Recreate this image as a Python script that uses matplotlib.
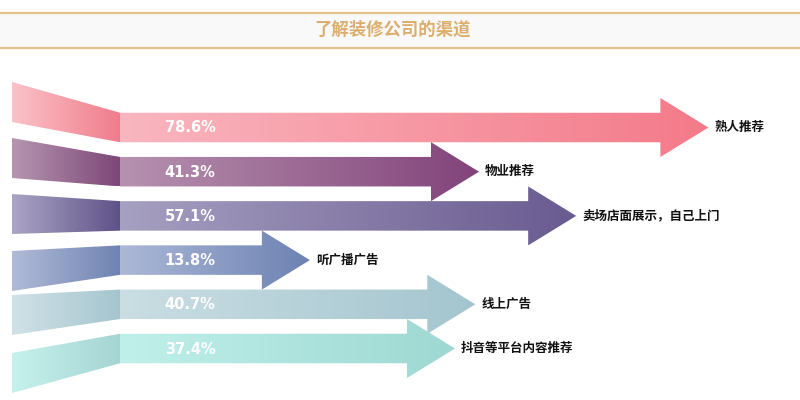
import matplotlib
matplotlib.use("Agg")
import matplotlib.pyplot as plt
import numpy as np
from matplotlib.patches import Polygon, Rectangle
from matplotlib.colors import to_rgb

plt.rcParams['font.family'] = ['Noto Sans CJK SC', 'DejaVu Sans']

title = "了解装修公司的渠道"
categories = ["熟人推荐", "物业推荐", "卖场店面展示，自己上门", "听广播广告", "线上广告", "抖音等平台内容推荐"]
values = [78.6, 41.3, 57.1, 13.8, 40.7, 37.4]
value_labels = ["78.6%", "41.3%", "57.1%", "13.8%", "40.7%", "37.4%"]

body_light = ["#f9b6bf", "#b692b0", "#a6a0c1", "#acb8d6", "#cadee3", "#c0f0ea"]
body_dark = ["#f47a89", "#82437a", "#695a90", "#6d82b3", "#a4c5cf", "#9ed8d2"]
fun_light = ["#fbc2c8", "#b596b0", "#aba5c5", "#b0bbd7", "#d0e2e7", "#c5f2ec"]
fun_dark = ["#f07c8b", "#7d4677", "#5e5187", "#6f82b2", "#a5c5ce", "#a6d4d4"]

fig = plt.figure(figsize=(8, 4), dpi=100)
ax = fig.add_axes([0, 0, 1, 1])
ax.axis('off')

X0, S = 225.0, 6.15  # pixel x of value 0, pixels per percent


def px(xp):
    return (xp - X0) / S


def grad_fill(verts, c0, c1, z=2):
    poly = Polygon(verts, closed=True, facecolor='none', edgecolor='none')
    ax.add_patch(poly)
    xs = [v[0] for v in verts]
    ys = [v[1] for v in verts]
    n = 256
    t = np.linspace(0, 1, n)[:, None]
    rgb = (1 - t) * np.array(to_rgb(c0)) + t * np.array(to_rgb(c1))
    im = ax.imshow(rgb[None, :, :], extent=(min(xs), max(xs), max(ys), min(ys)),
                   aspect='auto', interpolation='bilinear', zorder=z)
    im.set_clip_path(poly)


# title band
ax.add_patch(Rectangle((px(0), 12.5), px(800) - px(0), 35, facecolor='#f9f9f9',
                       edgecolor='none', zorder=0))
ax.plot([px(0), px(800)], [12.5, 12.5], color='#e6c189', lw=1.6, zorder=1)
ax.plot([px(0), px(800)], [47.5, 47.5], color='#e6c189', lw=1.6, zorder=1)
ax.text(px(393), 30, title, color='#dcae6e', fontsize=12.5, fontweight='bold',
        ha='center', va='center', zorder=3)

left_centers = [102, 158, 214, 271, 315, 373]
body_h = 29.5
head_h = 59
head_len = 48

for i, (cat, v, lab) in enumerate(zip(categories, values, value_labels)):
    yc = 127.5 + 44.2 * i
    lc = left_centers[i]
    # funnel piece
    fverts = [(px(12), lc - 20), (px(120), yc - body_h / 2),
              (px(120), yc + body_h / 2), (px(12), lc + 20)]
    grad_fill(fverts, fun_light[i], fun_dark[i], z=2)
    # arrow
    tip = v
    xh = tip - head_len / S
    xb = px(120)
    averts = [(xb, yc - body_h / 2), (xh, yc - body_h / 2), (xh, yc - head_h / 2),
              (tip, yc), (xh, yc + head_h / 2), (xh, yc + body_h / 2),
              (xb, yc + body_h / 2)]
    grad_fill(averts, body_light[i], body_dark[i], z=2)
    ax.text(px(190), yc + 0.5, lab, color='white', fontsize=10.5, fontweight='bold',
            ha='center', va='center', family='DejaVu Sans', zorder=4)
    ax.text(tip + 6 / S, yc, cat, color='#111111', fontsize=9, fontweight='bold',
            ha='left', va='center', zorder=4)

ax.set_xlim(px(0), px(800))
ax.set_ylim(400, 0)

fig.savefig("out.png", dpi=100, facecolor='white')
